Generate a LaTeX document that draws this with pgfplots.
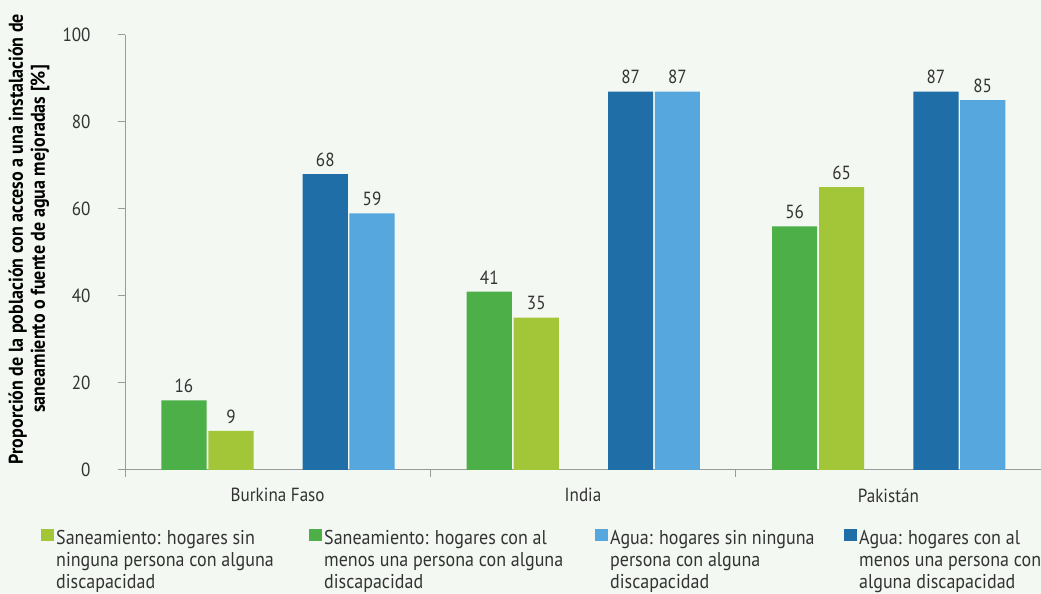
\documentclass[border=0pt]{standalone}
\usepackage{fontspec}
\setmainfont[FakeStretch=0.9]{PT Sans}
\usepackage{pgfplots}
\pgfplotsset{compat=1.18}
\definecolor{bg}{HTML}{F3F8F2}
\definecolor{dgreen}{HTML}{4DAF47}
\definecolor{lgreen}{HTML}{A2C637}
\definecolor{dblue}{HTML}{1F6EA8}
\definecolor{lblue}{HTML}{55A7DE}
\definecolor{axgray}{HTML}{9A9A9A}
\definecolor{txt}{HTML}{333333}
\begin{document}
\begin{tikzpicture}[x=1pt,y=1pt]
\fill[bg] (0,0) rectangle (1041,594);
\path[use as bounding box] (0,0) rectangle (1041,594);
\begin{axis}[
  at={(125pt,124pt)}, anchor=south west,
  width=916pt, height=435pt, scale only axis,
  xmin=-0.5, xmax=2.5, ymin=0, ymax=100,
  ybar, bar width=0.148,
  axis x line*=bottom, axis y line*=left,
  axis line style={axgray, line width=1pt, -},
  tick align=outside,
  /pgf/number format/assume math mode=true,
  xtick={0,1,2},
  xticklabels={Burkina Faso, India, Pakistán},
  minor xtick={-0.5,0.5,1.5,2.5},
  major x tick style={draw=none},
  minor x tick style={axgray, line width=1pt},
  minor tick length=7pt,
  major tick length=7pt,
  ytick={0,20,40,60,80,100},
  ytick style={axgray, line width=1pt},
  tick label style={font=\fontsize{19}{21}\selectfont, text=txt},
  yticklabel style={xshift=-24pt},
  xticklabel style={yshift=-8pt},
  ylabel={Proporción de la población con acceso a una instalación de\\saneamiento o fuente de agua mejoradas [\%]},
  ylabel style={at={(axis description cs:-0.1048,0.531)}, anchor=center, align=center,
    font=\bfseries\fontsize{20}{22}\selectfont, text=black},
  nodes near coords,
  nodes near coords style={font=\fontsize{19}{21}\selectfont, text=txt, yshift=4pt},
  legend columns=4,
  legend style={at={(axis description cs:-0.0917,-0.135)}, anchor=north west,
    draw=none, fill=none, inner sep=0pt, column sep=0pt,
    font=\fontsize{20}{22}\selectfont, text=txt,
    cells={anchor=base west}, nodes={inner sep=0pt}},
  legend image code/.code={\fill[#1,draw=none] (0pt,3pt) rectangle (13pt,15pt); \path (15pt,0pt);},
]
\addplot[fill=lgreen, draw=none, bar shift=-0.153] coordinates {(0,9) (1,35) (2,65)};
\addlegendentry{\begin{tabular}[t]{@{}p{253pt}@{}}Saneamiento: hogares sin\\ninguna persona con alguna\\discapacidad\end{tabular}}
\addplot[fill=dgreen, draw=none, bar shift=-0.307] coordinates {(0,16) (1,41) (2,56)};
\addlegendentry{\begin{tabular}[t]{@{}p{271pt}@{}}Saneamiento: hogares con al\\menos una persona con alguna\\discapacidad\end{tabular}}
\addplot[fill=lblue, draw=none, bar shift=0.309] coordinates {(0,59) (1,87) (2,85)};
\addlegendentry{\begin{tabular}[t]{@{}p{234pt}@{}}Agua: hogares sin ninguna\\persona con alguna\\discapacidad\end{tabular}}
\addplot[fill=dblue, draw=none, bar shift=0.156] coordinates {(0,68) (1,87) (2,87)};
\addlegendentry{\begin{tabular}[t]{@{}p{220pt}@{}}Agua: hogares con al\\menos una persona con\\alguna discapacidad\end{tabular}}
\end{axis}
\end{tikzpicture}
\end{document}
